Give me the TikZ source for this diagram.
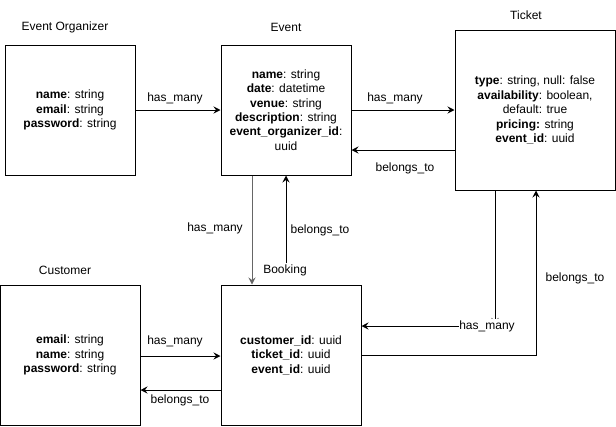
\documentclass[tikz,border=0pt]{standalone}
\usepackage{fontspec}
\setmainfont{Liberation Sans}
\usetikzlibrary{arrows.meta}
\begin{document}
\begin{tikzpicture}[x=1pt,y=-1pt,
  font=\fontsize{12}{14.4}\selectfont,
  entity/.style={draw,line width=1pt,align=center,inner sep=0pt},
  lbl/.style={inner sep=1pt},
  conn/.style={line width=1pt,-{Stealth[length=7pt,width=7pt,inset=2.5pt]}},
  plain/.style={line width=1pt}]
\useasboundingbox (0,0) rectangle (616,426);
% entities
\node[entity,minimum width=130pt,minimum height=130pt] (eo) at (70,110) {};
\node[align=center] (eotxt) at (70,110) {\textbf{name}: string\\\textbf{email}: string\\\textbf{password}: string};
\node[entity,minimum width=130pt,minimum height=130pt] (ev) at (286,110) {};
\node[align=center] (evtxt) at (286,110) {\textbf{name}: string\\\textbf{date}: datetime\\\textbf{venue}: string\\\textbf{description}: string\\\textbf{event\_organizer\_id}:\\uuid};
\node[entity,minimum width=160pt,minimum height=160pt] (tk) at (535,110) {};
\node[align=center] (tktxt) at (535,110) {\textbf{type}: string, null: false\\\textbf{availability}: boolean,\\default: true\\\textbf{pricing:} string\\\textbf{event\_id}: uuid};
\node[entity,minimum width=140pt,minimum height=140pt] (cu) at (70,355) {};
\node[align=center] (cutxt) at (70,355) {\textbf{email}: string\\\textbf{name}: string\\\textbf{password}: string};
\node[entity,minimum width=140pt,minimum height=140pt] (bk) at (291,355) {};
\node[align=center] (bktxt) at (291,355) {\textbf{customer\_id}: uuid\\\textbf{ticket\_id}: uuid\\\textbf{event\_id}: uuid};
% titles
\node[lbl] (eot) at (65,27) {Event Organizer};
\node[lbl] (evt) at (286,27) {Event};
\node[lbl] (tkt) at (526,15) {Ticket};
\node[lbl] (cut) at (65,270) {Customer};
\node[lbl] (bkt) at (285,270) {Booking};
% connectors
\draw[conn] (eo.east) -- (ev.west);
\node[lbl] (l1) at (175,98) {has\_many};
\draw[conn] (ev.east) -- (tk.west);
\node[lbl] (l2) at (395,98) {has\_many};
\draw[conn] (tk.west |- 0,150) -- (ev.east |- 0,150);
\node[lbl] (l3) at (405,168) {belongs\_to};
\draw[conn,draw=black!60] (ev.south -| 252,0) -- (bk.north -| 252,0);
\node[lbl] (l4) at (215,228) {has\_many};
\draw[conn] (bkt.north -| 286,0) -- (ev.south -| 286,0);
\node[lbl] (l5) at (320,230) {belongs\_to};
\draw[conn] (cu.east |- 0,356) -- (bk.west |- 0,356);
\node[lbl] (l6) at (175,341) {has\_many};
\draw[conn] (bk.west |- 0,390) -- (cu.east |- 0,390);
\node[lbl] (l7) at (180,400) {belongs\_to};
\coordinate (tkd) at (495,325);
\draw[conn] (tk.south -| tkd) -- (tkd);
\node[fill=white,inner xsep=0.5pt,inner ysep=1.5pt] (l8) at (487,326) {has\_many};
\draw[conn] (l8.west) -- (bk.east |- l8.west);
\coordinate (bend) at (536,355);
\draw[conn] (bk.east |- bend) -- (bend) -- (tk.south -| bend);
\node[lbl] (l9) at (575,278) {belongs\_to};
\end{tikzpicture}
\end{document}
